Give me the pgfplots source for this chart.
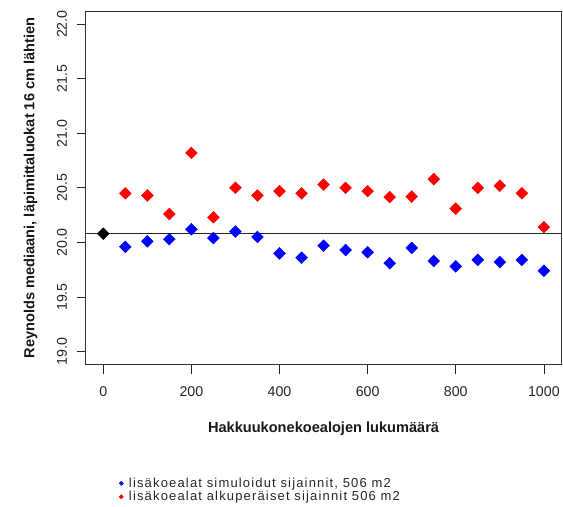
\documentclass[border=0pt]{standalone}
\usepackage{pgfplots}
\pgfplotsset{compat=1.18}
\usepackage{fontspec}
\setmainfont{Liberation Sans}
\begin{document}
\begin{tikzpicture}
\begin{axis}[
  scale only axis, clip=false,
  width=476.3pt, height=354pt,
  xmin=-40, xmax=1040, ymin=18.88, ymax=22.12,
  xtick=\empty, ytick=\empty,
  axis line style={line width=0.9pt, black!80},
]
\addplot[black!80, line width=0.9pt, forget plot] coordinates {(-40,22.12) (1040,22.12) (1040,18.88)};
\end{axis}
\begin{axis}[
  scale only axis, clip=false,
  width=476.3pt, height=354pt,
  xmin=-40, xmax=1040, ymin=18.88, ymax=22.12,
  xtick={0,200,...,1000},
  ytick={19,19.5,20,20.5,21,21.5,22},
  tick align=outside,
  major tick length=9pt,
  tick style={black!85, line width=0.7pt},
  xtick pos=bottom, ytick pos=left,
  axis line style={line width=0.8pt, black!80},
  /pgf/number format/assume math mode=true,
  /pgf/number format/1000 sep={},
  yticklabel style={/pgf/number format/.cd, fixed, fixed zerofill, precision=1, /tikz/.cd, xshift=-6pt, rotate=90, anchor=south},
  xticklabel style={yshift=-9pt},
  tick label style={font=\fontsize{14.2}{16}\selectfont, text=black!85},
  xlabel={\textbf{Hakkuukonekoealojen lukumäärä}},
  ylabel={\textbf{Reynolds mediaani, läpimittaluokat 16 cm lähtien}},
  label style={font=\fontsize{14.6}{16}\selectfont, text=black!90},
  xlabel style={at={(axis description cs:0.5,-0.180)}, anchor=center},
  ylabel style={at={(axis description cs:-0.1157,0.5)}, anchor=center},
  legend style={at={(axis description cs:0.068,-0.311)}, anchor=north west, draw=none, fill=none,
    font=\fontsize{13}{14}\selectfont\addfontfeature{LetterSpace=9}, row sep=-1.5pt, inner sep=1pt,
    nodes={text=black!85},
    /tikz/every even column/.append style={column sep=0pt}},
  legend cell align=left,
  legend image code/.code={\draw[#1, mark size=1.5pt] plot coordinates {(0pt,0pt)}; \path (-1pt,0pt) (5.5pt,0pt);},
]
\addplot[black!85, line width=0.8pt, forget plot] coordinates {(-40,20.08) (1040,20.08)};
\addplot[only marks, mark=square*, mark size=4.2pt, color=black, mark options={rotate=45, fill=black, draw=black}, forget plot] coordinates {(0,20.08)};
\addplot[only marks, mark=square*, mark size=4.2pt, color=blue, mark options={rotate=45, fill=blue, draw=blue}] coordinates {
(50,19.96) (100,20.01) (150,20.03) (200,20.12) (250,20.04) (300,20.10) (350,20.05)
(400,19.90) (450,19.86) (500,19.97) (550,19.93) (600,19.91) (650,19.81) (700,19.95)
(750,19.83) (800,19.78) (850,19.84) (900,19.82) (950,19.84) (1000,19.74)};
\addlegendentry{lisäkoealat simuloidut sijainnit, 506 m2}
\addplot[only marks, mark=square*, mark size=4.2pt, color=red, mark options={rotate=45, fill=red, draw=red}] coordinates {
(50,20.45) (100,20.43) (150,20.26) (200,20.82) (250,20.23) (300,20.50) (350,20.43)
(400,20.47) (450,20.45) (500,20.53) (550,20.50) (600,20.47) (650,20.415) (700,20.42)
(750,20.58) (800,20.31) (850,20.50) (900,20.52) (950,20.45) (1000,20.14)};
\addlegendentry{lisäkoealat alkuperäiset sijainnit 506 m2}
\coordinate (bl) at (rel axis cs:0,0);
\coordinate (tr) at (rel axis cs:1,1);
\end{axis}
\pgfresetboundingbox
\path[use as bounding box] ([xshift=-85.7pt,yshift=-142pt]bl) rectangle ([xshift=1.5pt,yshift=11pt]tr);
\end{tikzpicture}
\end{document}
